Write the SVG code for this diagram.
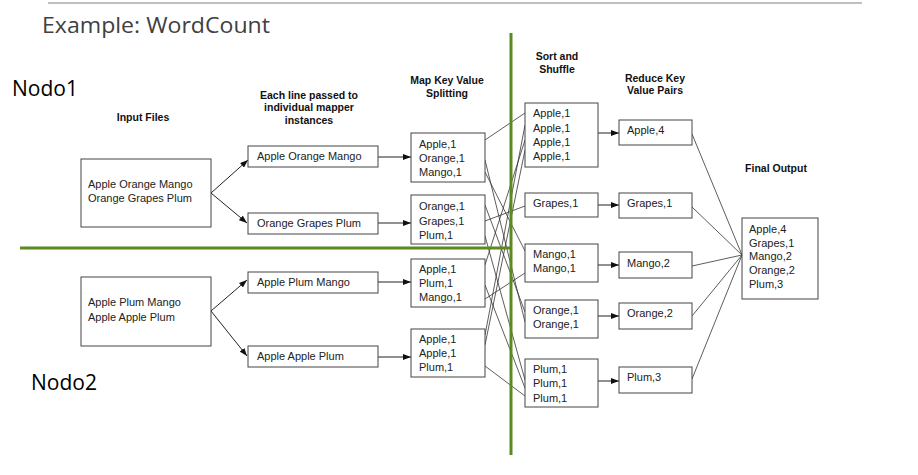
<svg xmlns="http://www.w3.org/2000/svg" width="918" height="475" viewBox="0 0 918 475">
<style>
.bx{fill:#fff;stroke:#444;stroke-width:1}
.t{font-family:"Liberation Sans",Arial,sans-serif;font-size:11px;fill:#222}
.lb{font-family:"Liberation Sans",Arial,sans-serif;font-size:10.5px;font-weight:bold;fill:#111;text-anchor:middle}
.big{font-family:"Open Sans","Noto Sans",sans-serif;fill:#000}
.ar{stroke:#222;stroke-width:1;fill:none;marker-end:url(#ah)}
.ln{stroke:#333;stroke-width:0.8;fill:none}
.gr{stroke:#5b8a1e;stroke-width:3}
</style>
<defs>
<marker id="ah" markerUnits="userSpaceOnUse" markerWidth="8" markerHeight="6" refX="8" refY="3" orient="auto">
<path d="M0,0 L8,3 L0,6 z" fill="#111"/>
</marker>
</defs>
<rect width="918" height="475" fill="#fff"/>
<line x1="48" y1="3" x2="862" y2="3" stroke="#808080" stroke-width="1"/>
<text class="big" x="42" y="33" font-size="22" fill="#404040" style="fill:#404040" textLength="228" lengthAdjust="spacingAndGlyphs">Example: WordCount</text>
<text class="big" x="12" y="96" font-size="21">Nodo1</text>
<text class="big" x="31" y="390" font-size="21">Nodo2</text>

<g id="labels">
<text class="lb" x="143" y="121">Input Files</text>
<text class="lb" x="309" y="99">Each line passed to</text>
<text class="lb" x="309" y="111">individual mapper</text>
<text class="lb" x="309" y="124">instances</text>
<text class="lb" x="447" y="84">Map Key Value</text>
<text class="lb" x="447" y="97">Splitting</text>
<text class="lb" x="557" y="60">Sort and</text>
<text class="lb" x="557" y="73">Shuffle</text>
<text class="lb" x="655" y="82">Reduce Key</text>
<text class="lb" x="655" y="94">Value Pairs</text>
<text class="lb" x="776" y="172">Final Output</text>
</g>

<g id="connectors">
<line class="ar" x1="211" y1="193" x2="248" y2="160"/>
<line class="ar" x1="211" y1="193" x2="247" y2="223"/>
<line class="ar" x1="211" y1="311" x2="247" y2="280"/>
<line class="ar" x1="211" y1="311" x2="247" y2="356"/>
<line class="ar" x1="378" y1="157" x2="411" y2="157"/>
<line class="ar" x1="378" y1="223" x2="411" y2="223"/>
<line class="ar" x1="378" y1="282" x2="411" y2="282"/>
<line class="ar" x1="378" y1="357" x2="411" y2="357"/>
<line class="ln" x1="485" y1="140" x2="525" y2="113"/>
<line class="ln" x1="485" y1="160" x2="525" y2="322"/>
<line class="ln" x1="485" y1="172" x2="525" y2="251"/>
<line class="ln" x1="485" y1="205" x2="525" y2="312"/>
<line class="ln" x1="485" y1="221" x2="525" y2="206"/>
<line class="ln" x1="485" y1="236" x2="525" y2="380"/>
<line class="ln" x1="485" y1="265" x2="525" y2="140"/>
<line class="ln" x1="485" y1="299" x2="525" y2="273"/>
<line class="ln" x1="485" y1="285" x2="525" y2="388"/>
<line class="ln" x1="485" y1="335" x2="525" y2="125"/>
<line class="ln" x1="485" y1="345" x2="525" y2="150"/>
<line class="ln" x1="485" y1="366" x2="525" y2="396"/>
<line class="ar" x1="598" y1="133" x2="619" y2="133"/>
<line class="ar" x1="598" y1="205" x2="619" y2="205"/>
<line class="ar" x1="598" y1="265" x2="619" y2="265"/>
<line class="ar" x1="598" y1="316" x2="619" y2="316"/>
<line class="ar" x1="598" y1="381" x2="619" y2="381"/>
<line class="ln" x1="692" y1="134" x2="742" y2="255"/>
<line class="ln" x1="692" y1="207" x2="742" y2="255"/>
<line class="ln" x1="692" y1="266" x2="742" y2="255"/>
<line class="ln" x1="692" y1="316" x2="742" y2="255"/>
<line class="ln" x1="692" y1="379" x2="742" y2="255"/>
</g>

<g id="input1"><rect class="bx" x="81" y="159" width="130" height="68"/>
<text class="t" x="88" y="188">Apple Orange Mango</text><text class="t" x="88" y="202">Orange Grapes Plum</text></g>
<g id="input2"><rect class="bx" x="81" y="277" width="130" height="69"/>
<text class="t" x="88" y="306">Apple Plum Mango</text><text class="t" x="88" y="321">Apple Apple Plum</text></g>

<g id="mapper1"><rect class="bx" x="248" y="146" width="130" height="21"/><text class="t" x="257" y="160">Apple Orange Mango</text></g>
<g id="mapper2"><rect class="bx" x="248" y="213" width="130" height="21"/><text class="t" x="257" y="227">Orange Grapes Plum</text></g>
<g id="mapper3"><rect class="bx" x="248" y="272" width="130" height="21"/><text class="t" x="257" y="286">Apple Plum Mango</text></g>
<g id="mapper4"><rect class="bx" x="248" y="346" width="130" height="21"/><text class="t" x="257" y="360">Apple Apple Plum</text></g>

<g id="map1"><rect class="bx" x="411" y="133" width="74" height="49"/>
<text class="t" x="419" y="148">Apple,1</text><text class="t" x="419" y="162">Orange,1</text><text class="t" x="419" y="176">Mango,1</text></g>
<g id="map2"><rect class="bx" x="411" y="195" width="74" height="49"/>
<text class="t" x="419" y="210">Orange,1</text><text class="t" x="419" y="225">Grapes,1</text><text class="t" x="419" y="239">Plum,1</text></g>
<g id="map3"><rect class="bx" x="411" y="259" width="74" height="48"/>
<text class="t" x="419" y="273">Apple,1</text><text class="t" x="419" y="287">Plum,1</text><text class="t" x="419" y="301">Mango,1</text></g>
<g id="map4"><rect class="bx" x="411" y="329" width="74" height="48"/>
<text class="t" x="419" y="343">Apple,1</text><text class="t" x="419" y="357">Apple,1</text><text class="t" x="419" y="371">Plum,1</text></g>

<g id="shuffleApple"><rect class="bx" x="525" y="103" width="73" height="64"/>
<text class="t" x="533" y="117">Apple,1</text><text class="t" x="533" y="132">Apple,1</text><text class="t" x="533" y="146">Apple,1</text><text class="t" x="533" y="160">Apple,1</text></g>
<g id="shuffleGrapes"><rect class="bx" x="525" y="193" width="73" height="24"/>
<text class="t" x="533" y="207">Grapes,1</text></g>
<g id="shuffleMango"><rect class="bx" x="525" y="244" width="73" height="38"/>
<text class="t" x="533" y="258">Mango,1</text><text class="t" x="533" y="272">Mango,1</text></g>
<g id="shuffleOrange"><rect class="bx" x="525" y="300" width="73" height="38"/>
<text class="t" x="533" y="314">Orange,1</text><text class="t" x="533" y="328">Orange,1</text></g>
<g id="shufflePlum"><rect class="bx" x="525" y="359" width="73" height="48"/>
<text class="t" x="533" y="373">Plum,1</text><text class="t" x="533" y="387">Plum,1</text><text class="t" x="533" y="402">Plum,1</text></g>

<g id="reduceApple"><rect class="bx" x="619" y="120" width="73" height="25"/><text class="t" x="627" y="134">Apple,4</text></g>
<g id="reduceGrapes"><rect class="bx" x="619" y="193" width="73" height="25"/><text class="t" x="627" y="207">Grapes,1</text></g>
<g id="reduceMango"><rect class="bx" x="619" y="252" width="73" height="26"/><text class="t" x="627" y="267">Mango,2</text></g>
<g id="reduceOrange"><rect class="bx" x="619" y="303" width="73" height="26"/><text class="t" x="627" y="317">Orange,2</text></g>
<g id="reducePlum"><rect class="bx" x="619" y="367" width="73" height="26"/><text class="t" x="627" y="381">Plum,3</text></g>

<g id="final"><rect class="bx" x="742" y="218" width="76" height="81"/>
<text class="t" x="749" y="233">Apple,4</text><text class="t" x="749" y="247">Grapes,1</text><text class="t" x="749" y="260">Mango,2</text><text class="t" x="749" y="274">Orange,2</text><text class="t" x="749" y="288">Plum,3</text></g>

<g id="dividers">
<line class="gr" x1="20" y1="248" x2="512" y2="248"/>
<line class="gr" x1="511" y1="33" x2="511" y2="455"/>
</g>
</svg>
